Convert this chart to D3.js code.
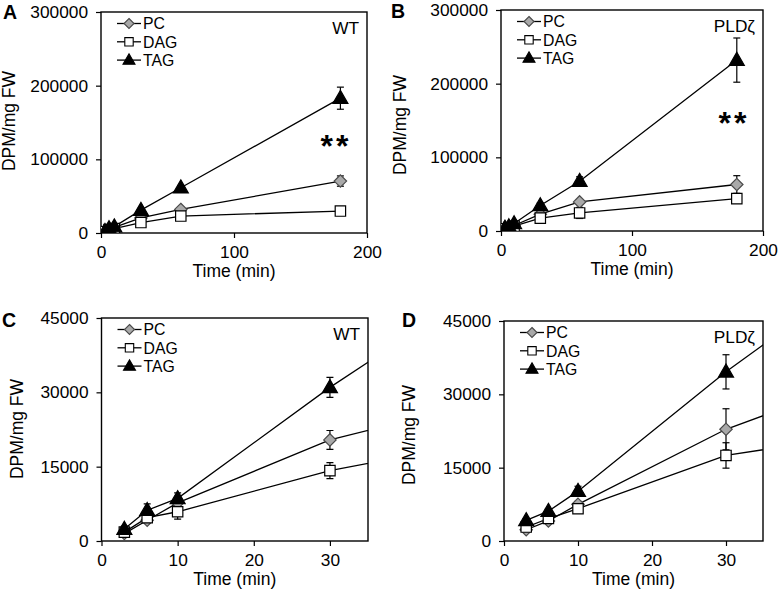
<!DOCTYPE html>
<html>
<head>
<meta charset="utf-8">
<script src="https://cdn.jsdelivr.net/npm/d3@7/dist/d3.min.js"></script>
<style>
  html, body { margin: 0; padding: 0; background: #fff; }
  svg { display: block; }
  text { font-family: "Liberation Sans", Arial, sans-serif; fill: #000; }
</style>
</head>
<body>
<svg id="chart" width="778" height="593"></svg>
<script>
// ---------------- data ----------------
const times = [3, 6, 10, 30, 60, 180];
const seriesNames = ["PC", "DAG", "TAG"];

// Wild type
const wtPC = [1500, 4200, 7700, 20400, 32000, 70500];
const wtPCErr = [500, 600, 800, 1900, 2500, 7000];
const wtDAG = [1800, 4700, 5900, 14200, 23000, 29800];
const wtDAGErr = [400, 700, 1500, 1600, 3000, 6000];
const wtTAG = [2400, 6200, 8600, 31000, 61500, 183000];
const wtTAGErr = [600, 1300, 1100, 2000, 3000, 15000];

// PLDζ
const pldPC = [2300, 4100, 7500, 22850, 39500, 63100];
const pldPCErr = [300, 400, 600, 4200, 3000, 12000];
const pldDAG = [2850, 4600, 6600, 17500, 24500, 44000];
const pldDAGErr = [300, 400, 500, 2600, 7500, 3000];
const pldTAG = [4200, 6100, 10200, 34600, 67600, 232000];
const pldTAGErr = [400, 500, 1000, 3500, 6000, 30000];

const xTicksFull = [0, 100, 200];
const yTicksFull = [0, 100000, 200000, 300000];
const xTicksZoom = [0, 10, 20, 30];
const yTicksZoom = [0, 15000, 30000, 45000];

const yTitle = "DPM/mg FW";
const xTitle = "Time (min)";

// ---------------- helpers ----------------
const svg = d3.select("#chart");
function diamond(r) { return `M0,${-r}L${r},0L0,${r}L${-r},0Z`; }
function square(r) { return `M${-r},${-r}H${r}V${r}H${-r}Z`; }
function triangle(w, h) { return `M0,${-h * 0.6}L${w / 2},${h * 0.4}L${-w / 2},${h * 0.4}Z`; }

const style = {
  PC:  { fill: "#a9a9a9", stroke: "#4a4a4a", path: diamond(6.2), legPath: diamond(5) },
  DAG: { fill: "#ffffff", stroke: "#000", path: square(5.2), legPath: square(4.2) },
  TAG: { fill: "#000", stroke: "#000", path: triangle(15, 13), legPath: triangle(12, 10.5) }
};

function makeSeries(pc, pcE, dag, dagE, tag, tagE) {
  return {
    PC: times.map((t, i) => ({ t, v: pc[i], e: pcE[i] })),
    DAG: times.map((t, i) => ({ t, v: dag[i], e: dagE[i] })),
    TAG: times.map((t, i) => ({ t, v: tag[i], e: tagE[i] }))
  };
}
const wtData = makeSeries(wtPC, wtPCErr, wtDAG, wtDAGErr, wtTAG, wtTAGErr);
const pldData = makeSeries(pldPC, pldPCErr, pldDAG, pldDAGErr, pldTAG, pldTAGErr);

const panels = [
  { id: "A", box: [101, 367, 12, 233], xd: [0, 200], yd: [0, 300000], xt: xTicksFull, yt: yTicksFull,
    data: wtData, label: "WT", stars: [336, 140], letter: [3, 19], ytx: 15, yty: 121 },
  { id: "B", box: [501, 763, 10, 231], xd: [0, 200], yd: [0, 300000], xt: xTicksFull, yt: yTicksFull,
    data: pldData, label: "PLDζ", stars: [734, 117], letter: [391, 18], ytx: 406, yty: 125 },
  { id: "C", box: [101.5, 368, 318, 541], xd: [0, 35], yd: [0, 45000], xt: xTicksZoom, yt: yTicksZoom,
    data: wtData, label: "WT", stars: null, letter: [2, 327], ytx: 23, yty: 429 },
  { id: "D", box: [504, 763, 321, 541], xd: [0, 35], yd: [0, 45000], xt: xTicksZoom, yt: yTicksZoom,
    data: pldData, label: "PLDζ", stars: null, letter: [402, 327], ytx: 415, yty: 435 }
];

const FS = 17.3;
const LFS = 15.8;

panels.forEach(p => {
  const [x0, x1, y0, y1] = p.box;
  const x = d3.scaleLinear().domain(p.xd).range([x0, x1]);
  const y = d3.scaleLinear().domain(p.yd).range([y1, y0]);
  const g = svg.append("g").attr("class", "panel-" + p.id);

  const clipId = "clip-" + p.id;
  svg.append("clipPath").attr("id", clipId)
    .append("rect").attr("x", x0).attr("y", y0 - 1).attr("width", x1 - x0).attr("height", y1 - y0 + 1);

  // axes
  const ya = g.append("g").attr("transform", `translate(${x0},0)`)
    .call(d3.axisLeft(y).tickValues(p.yt).tickSize(5).tickSizeOuter(0).tickPadding(8).tickFormat(d3.format("d")));
  const xa = g.append("g").attr("transform", `translate(0,${y1})`)
    .call(d3.axisBottom(x).tickValues(p.xt).tickSize(5).tickSizeOuter(0).tickPadding(8).tickFormat(d3.format("d")));
  [ya, xa].forEach(a => {
    a.attr("font-size", FS).attr("font-family", null);
    a.select(".domain").remove();
    a.selectAll(".tick line").attr("stroke", "#000").attr("stroke-width", 1.2);
    a.selectAll(".tick text").attr("font-size", FS).attr("fill", "#000");
  });

  // box
  g.append("rect").attr("x", x0).attr("y", y0).attr("width", x1 - x0).attr("height", y1 - y0)
    .attr("fill", "none").attr("stroke", "#000").attr("stroke-width", 1.4);

  // titles
  g.append("text").attr("x", (x0 + x1) / 2).attr("y", y1 + 44)
    .attr("text-anchor", "middle").attr("font-size", 17.5).text(xTitle);
  g.append("text").attr("transform", `translate(${p.ytx},${p.yty}) rotate(-90)`)
    .attr("text-anchor", "middle").attr("font-size", 17.5).text(yTitle);

  // panel letter
  g.append("text").attr("x", p.letter[0]).attr("y", p.letter[1])
    .attr("font-size", 19.5).attr("font-weight", "bold").text(p.id);

  // genotype label
  g.append("text").attr("x", x1 - 8).attr("y", y0 + 22)
    .attr("text-anchor", "end").attr("font-size", FS).text(p.label);

  // significance stars
  if (p.stars) {
    g.append("text").attr("x", p.stars[0]).attr("y", p.stars[1] + 17)
      .attr("text-anchor", "middle").attr("font-size", 32).attr("font-weight", "bold")
      .attr("letter-spacing", 3).text("**");
  }

  // data
  const plot = g.append("g").attr("clip-path", `url(#${clipId})`);
  const line = d3.line().x(d => x(d.t)).y(d => y(d.v));
  seriesNames.forEach(name => {
    plot.append("path").datum(p.data[name]).attr("d", line)
      .attr("fill", "none").attr("stroke", "#000").attr("stroke-width", 1.3);
  });
  seriesNames.forEach(name => {
    const eb = plot.append("g");
    p.data[name].forEach(d => {
      const cx = x(d.t), ylo = y(d.v - d.e), yhi = y(d.v + d.e);
      eb.append("line").attr("x1", cx).attr("x2", cx).attr("y1", ylo).attr("y2", yhi)
        .attr("stroke", "#000").attr("stroke-width", 1.2);
      [ylo, yhi].forEach(yy => eb.append("line").attr("x1", cx - 3.5).attr("x2", cx + 3.5)
        .attr("y1", yy).attr("y2", yy).attr("stroke", "#000").attr("stroke-width", 1.2));
    });
  });
  seriesNames.forEach(name => {
    const s = style[name];
    plot.append("g").selectAll("path").data(p.data[name]).join("path")
      .attr("transform", d => `translate(${x(d.t)},${y(d.v)})`)
      .attr("d", s.path).attr("fill", s.fill).attr("stroke", s.stroke).attr("stroke-width", 1.2);
  });

  // legend
  const leg = g.append("g").attr("transform", `translate(${x0},${y0})`);
  seriesNames.forEach((name, i) => {
    const s = style[name];
    const ly = 11.5 + i * 18.3;
    leg.append("line").attr("x1", 16).attr("x2", 40).attr("y1", ly).attr("y2", ly)
      .attr("stroke", "#000").attr("stroke-width", 1.3);
    leg.append("path").attr("transform", `translate(28,${ly})`).attr("d", s.legPath)
      .attr("fill", s.fill).attr("stroke", s.stroke).attr("stroke-width", 1.1);
    leg.append("text").attr("x", 42).attr("y", ly + 5.8).attr("font-size", LFS)
      .attr("textLength", null).text(name);
  });
});
</script>
</body>
</html>
